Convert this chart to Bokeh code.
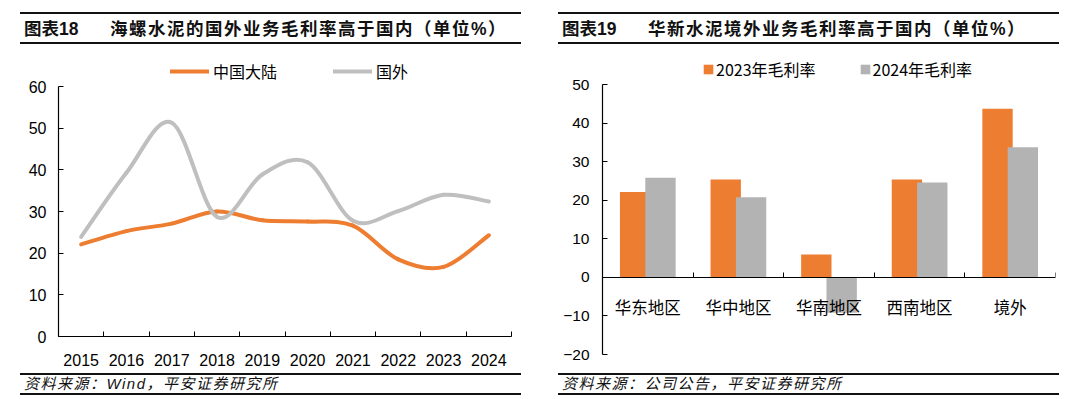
from bokeh.plotting import figure
from bokeh.models import Range1d, FixedTicker, ColumnDataSource, Legend, LegendItem, Div
from bokeh.layouts import row, column
from bokeh.transform import dodge
from bokeh.core.properties import value
from bokeh.embed import file_html
from bokeh.resources import INLINE

# ---------------- data ----------------
years = ["2015", "2016", "2017", "2018", "2019", "2020", "2021", "2022", "2023", "2024"]
mainland = [22.1, 25.3, 27.1, 30.0, 27.9, 27.6, 26.6, 18.5, 16.7, 24.3]
overseas = [23.9, 39.3, 51.3, 28.7, 38.9, 41.8, 27.8, 30.1, 34.0, 32.4]
line_names = ["中国大陆", "国外"]

regions = ["华东地区", "华中地区", "华南地区", "西南地区", "境外"]
gm2023 = [22.1, 25.4, 5.9, 25.4, 43.7]
gm2024 = [25.8, 20.8, -9.2, 24.6, 33.7]
bar_names = ["2023年毛利率", "2024年毛利率"]

left_yticks = [0, 10, 20, 30, 40, 50, 60]
right_yticks = [-20, -10, 0, 10, 20, 30, 40, 50]

ORANGE = "#ED7D31"
GRAY_LINE = "#BFBFBF"
GRAY_BAR = "#B3B3B3"
NUM_FONT = "Liberation Sans"
CJK_FONT = "Noto Sans CJK SC"

FIG_H = 322


def smooth_source(ys):
    """Bezier segments through the data points (Catmull-Rom style smoothing)."""
    xs = list(range(len(ys)))
    n = len(ys)
    d = dict(x0=[], y0=[], x1=[], y1=[], cx0=[], cy0=[], cx1=[], cy1=[])
    for i in range(n - 1):
        a = i - 1 if i > 0 else i
        b = i + 2 if i + 2 < n else i + 1
        d["x0"].append(xs[i]); d["y0"].append(ys[i])
        d["x1"].append(xs[i + 1]); d["y1"].append(ys[i + 1])
        d["cx0"].append(xs[i] + (xs[i + 1] - xs[a]) / 6.0)
        d["cy0"].append(ys[i] + (ys[i + 1] - ys[a]) / 6.0)
        d["cx1"].append(xs[i + 1] - (xs[b] - xs[i]) / 6.0)
        d["cy1"].append(ys[i + 1] - (ys[b] - ys[i]) / 6.0)
    return ColumnDataSource(d)


def style_common(p):
    p.outline_line_color = None
    p.xgrid.visible = False
    p.ygrid.visible = False
    p.background_fill_color = "white"
    p.border_fill_color = "white"
    for ax in (p.xaxis[0], p.yaxis[0]):
        ax.axis_line_color = "black"
        ax.axis_line_width = 1.2
        ax.major_label_text_color = "black"
        ax.minor_tick_line_color = None
        ax.major_tick_line_color = "black"


# ---------------- left chart ----------------
# 60 sits L_PAD px below the frame top, leaving room for the legend
L_TOP, L_BOT, L_PAD = 12, 32, 28
l_frame = FIG_H - L_TOP - L_BOT
l_end = max(left_yticks) * l_frame / (l_frame - L_PAD)
p1 = figure(width=540, height=FIG_H, x_range=Range1d(-0.5, 9.5), y_range=Range1d(0, l_end),
            output_backend="svg", toolbar_location=None, margin=0, frame_align=False,
            min_border_left=58, min_border_right=29, min_border_top=L_TOP, min_border_bottom=L_BOT)
style_common(p1)

r_main = p1.bezier(x0="x0", y0="y0", x1="x1", y1="y1", cx0="cx0", cy0="cy0", cx1="cx1", cy1="cy1",
                   source=smooth_source(mainland), line_color=ORANGE, line_width=4, line_cap="round")
r_over = p1.bezier(x0="x0", y0="y0", x1="x1", y1="y1", cx0="cx0", cy0="cy0", cx1="cx1", cy1="cy1",
                   source=smooth_source(overseas), line_color=GRAY_LINE, line_width=4, line_cap="round")

xa = p1.xaxis[0]
xa.ticker = FixedTicker(ticks=list(range(len(years))), minor_ticks=[i - 0.5 for i in range(len(years) + 1)])
xa.major_label_overrides = {i: y for i, y in enumerate(years)}
xa.major_tick_line_color = None
xa.minor_tick_line_color = "black"
xa.minor_tick_in = 5
xa.minor_tick_out = 0
xa.major_label_standoff = 11
xa.major_label_text_font = NUM_FONT
xa.major_label_text_font_size = "16px"

ya = p1.yaxis[0]
ya.ticker = FixedTicker(ticks=left_yticks, minor_ticks=[])
ya.bounds = (min(left_yticks), max(left_yticks))
ya.major_tick_in = 5
ya.major_tick_out = 0
ya.major_label_standoff = 12
ya.major_label_text_font = NUM_FONT
ya.major_label_text_font_size = "16px"

leg1 = Legend(items=[LegendItem(label=line_names[0], renderers=[r_main]),
                     LegendItem(label=line_names[1], renderers=[r_over])],
              orientation="horizontal", location=(112, l_frame - L_PAD + 3),
              glyph_width=39, glyph_height=22, label_height=22, label_standoff=4, spacing=56,
              padding=0, margin=0, border_line_color=None, background_fill_alpha=0,
              label_text_font=CJK_FONT, label_text_font_size="16px", label_text_color="black")
p1.add_layout(leg1)

# ---------------- right chart ----------------
R_TOP, R_BOT, R_PAD = 8, 14, 30
r_frame = FIG_H - R_TOP - R_BOT
r_span = max(right_yticks) - min(right_yticks)
r_end = max(right_yticks) + R_PAD * r_span / (r_frame - R_PAD)
p2 = figure(width=540, height=FIG_H, x_range=Range1d(-0.5, 4.5), y_range=Range1d(min(right_yticks), r_end),
            output_backend="svg", toolbar_location=None, margin=0, frame_align=False,
            min_border_left=62, min_border_right=25, min_border_top=R_TOP, min_border_bottom=R_BOT)
style_common(p2)

bsrc = ColumnDataSource(dict(xc=list(range(len(regions))), a=gm2023, b=gm2024,
                             zero=[0] * len(regions), name=regions))
r23 = p2.vbar(x=dodge("xc", -0.14), top="a", bottom=0, width=0.335, source=bsrc,
              fill_color=ORANGE, line_color=None)
r24 = p2.vbar(x=dodge("xc", 0.14), top="b", bottom=0, width=0.335, source=bsrc,
              fill_color=GRAY_BAR, line_color=None)
# category labels just under the zero line
p2.text(x="xc", y="zero", text="name", source=bsrc, text_align="center", text_baseline="top",
        y_offset=18, text_font=value(CJK_FONT), text_font_size="16.5px", text_color="black")

xb = p2.xaxis[0]
xb.fixed_location = 0
xb.ticker = FixedTicker(ticks=[], minor_ticks=[i - 0.5 for i in range(len(regions) + 1)])
xb.major_label_standoff = 0
xb.major_tick_line_color = None
xb.minor_tick_line_color = "black"
xb.minor_tick_in = 5
xb.minor_tick_out = 0

yb = p2.yaxis[0]
yb.ticker = FixedTicker(ticks=right_yticks, minor_ticks=[])
yb.bounds = (min(right_yticks), max(right_yticks))
yb.major_tick_in = 5
yb.major_tick_out = 0
yb.major_label_standoff = 13
yb.major_label_text_font = NUM_FONT
yb.major_label_text_font_size = "15.5px"

leg2 = Legend(items=[LegendItem(label=bar_names[0], renderers=[r23]),
                     LegendItem(label=bar_names[1], renderers=[r24])],
              orientation="horizontal", location=(100, r_frame - R_PAD + 3),
              glyph_width=12, glyph_height=12, label_height=22, label_standoff=2, spacing=43,
              padding=0, margin=0, border_line_color=None, background_fill_alpha=0,
              label_text_font=CJK_FONT, label_text_font_size="16px", label_text_color="black")
p2.add_layout(leg2)

# ---------------- titles & sources ----------------
def title_div(num, text, left):
    html = (
        f'<div style="box-sizing:border-box;margin-top:12px;margin-left:{left}px;width:501px;'
        f'border-top:2px solid #111;border-bottom:2px solid #111;height:32px;padding-top:2px;'
        f'line-height:26px;white-space:nowrap;'
        f'font-family:\'Liberation Sans\',\'Noto Sans CJK SC\';font-weight:bold;font-size:17.5px;color:#111;">'
        f'<span style="display:inline-block;width:86px;margin-left:4px;">{num}</span>'
        f'<span style="letter-spacing:1.5px;">{text}</span></div>'
    )
    return Div(text=html, width=540, height=46, margin=0)


def source_div(text, left):
    html = (
        f'<div style="box-sizing:border-box;margin-top:5px;margin-left:{left}px;width:501px;'
        f'border-top:2px solid #111;border-bottom:2px solid #111;height:22px;line-height:18px;'
        f'white-space:nowrap;font-family:\'Liberation Sans\',\'Noto Sans CJK SC\';font-style:italic;'
        f'font-size:15px;letter-spacing:1.5px;color:#111;">'
        f'<span style="margin-left:4px;">{text}</span></div>'
    )
    return Div(text=html, width=540, height=31, margin=0)


t1 = title_div("图表18", "海螺水泥的国外业务毛利率高于国内（单位%）", 20)
t2 = title_div("图表19", "华新水泥境外业务毛利率高于国内（单位%）", 18)
s1 = source_div("资料来源：Wind，平安证券研究所", 20)
s2 = source_div("资料来源：公司公告，平安证券研究所", 18)

layout = column(row(t1, t2, spacing=0), row(p1, p2, spacing=0), row(s1, s2, spacing=0), spacing=0)

open("out.html", "w").write(file_html(layout, INLINE))
